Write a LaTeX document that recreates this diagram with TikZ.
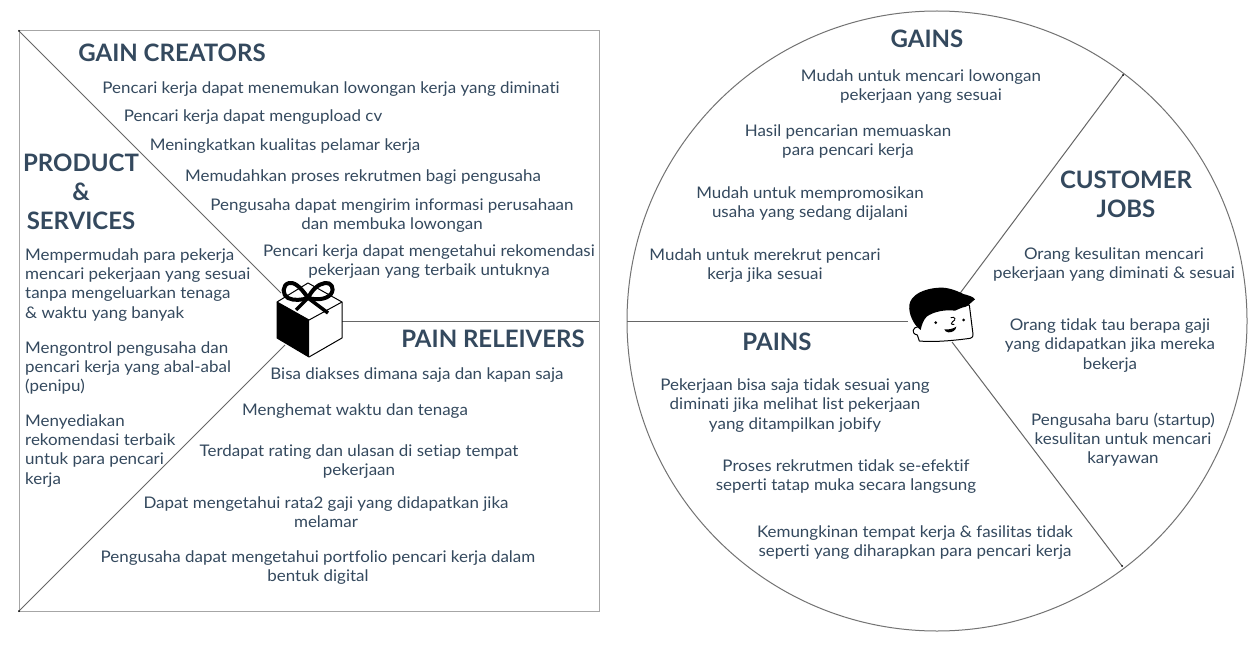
\documentclass[tikz,border=0pt]{standalone}
\usepackage{fontspec}
\setmainfont{Lato}
\newfontfamily\bodyfont[FakeStretch=1.06,Ligatures=NoCommon]{Lato}
\definecolor{ink}{HTML}{34495E}
\definecolor{rule}{HTML}{A6A6A6}
\tikzset{
  body/.style={text=ink,font=\bodyfont\fontsize{16}{19.2}\selectfont,align=center,inner sep=0pt,anchor=center,yshift=-1.5pt},
  bodyl/.style={text=ink,font=\bodyfont\fontsize{16}{19.2}\selectfont,align=left,inner sep=0pt,anchor=north west,yshift=-1.5pt},
  head/.style={text=ink,font=\fontsize{24}{29}\selectfont\bfseries,align=center,inner sep=0pt,anchor=center},
  frame/.style={draw=rule,line width=1pt},
  spoke/.style={draw=black!60,line width=1pt},
  tick/.style={fill=black,inner sep=0pt,minimum size=2pt,circle},
}
\begin{document}
\begin{tikzpicture}[x=1pt,y=-1pt]
\useasboundingbox (0,0) rectangle (1257,647);
\fill[white] (0,0) rectangle (1257,647);
% left canvas
\coordinate (tl) at (19,31);
\coordinate (bl) at (19,611);
\coordinate (br) at (599,611);
\coordinate (tr) at (599,31);
\coordinate (giftA) at (281,293);
\coordinate (giftB) at (285,345);
\coordinate (giftC) at (342,321);
\coordinate (midR) at (599,321);
\draw[frame] (tl) rectangle (br);
\draw[spoke] (tl) -- (giftA);
\draw[spoke] (bl) -- (giftB);
\draw[spoke] (giftC) -- (midR);
\node[tick] (dtl) at (tl) {};
\node[tick] (dbl) at (bl) {};
% right circle
\coordinate (cc) at (937,321);
\coordinate (cL) at (627,321);
\coordinate (cT) at (1123,75);
\coordinate (cB) at (1122,566);
\coordinate (fL) at (908,321);
\coordinate (fT) at (958,296);
\coordinate (fB) at (952,342);
\draw[frame,draw=black!55] (cc) circle (310);
\draw[spoke] (cL) -- (fL);
\draw[spoke] (fT) -- (cT);
\draw[spoke] (fB) -- (cB);
\node[tick] (dct) at (cT) {};
\node[tick] (dcb) at (cB) {};
% gift
\draw[black,line width=1pt,fill=white,line join=round] (308,283) -- (342,302) -- (342,338) -- (309,357) -- (277,338) -- (277,302) -- cycle;
\fill[black] (277,302) -- (309,320) -- (309,357) -- (277,338) -- cycle;
\draw[black,line width=1pt] (277,302) -- (309,320) -- (342,302);
\draw[black,line width=4pt,line cap=round,line join=round] (308,298)
  .. controls (300,286) and (294,282) .. (289,283)
  .. controls (282,285) and (282,295) .. (288,298)
  .. controls (294,301) and (302,300) .. (308,298)
  .. controls (316,300) and (326,300) .. (331,294)
  .. controls (335,288) and (331,282) .. (325,283)
  .. controls (318,284) and (312,290) .. (308,298);
\draw[black,line width=3.5pt,line cap=butt] (308,298) -- (296,310);
\draw[black,line width=3.5pt,line cap=butt] (308,298) -- (328,313);
% face
\begin{scope}[shift={(890,270)},x=0.3333pt,y=-0.3333pt]
\draw[black,line width=1pt,fill=white,line join=round] (85,170) .. controls (70,170) and (60,190) .. (82,195)
  -- (88,213) .. controls (130,217) and (190,212) .. (240,205) .. controls (250,203) and (250,195) .. (248,185)
  -- (238,105) -- (100,120) -- cycle;
\fill[black] (92,180) .. controls (70,165) and (55,130) .. (58,105)
  .. controls (62,75) and (100,55) .. (150,53)
  .. controls (175,52) and (200,62) .. (220,72)
  .. controls (235,76) and (250,80) .. (255,88)
  .. controls (245,95) and (240,103) .. (228,110)
  .. controls (215,112) and (205,118) .. (195,122)
  .. controls (165,118) and (130,125) .. (110,140)
  .. controls (100,150) and (95,165) .. (92,180) -- cycle;
\fill[black] (137,158) circle (4.5);
\fill[black] (221,150) circle (4.5);
\draw[black,line width=0.9pt,line cap=round] (183,143) .. controls (195,138) and (200,150) .. (188,155) .. controls (182,158) and (182,165) .. (192,163);
\fill[black] (163,178) .. controls (175,180) and (190,176) .. (199,170) .. controls (198,182) and (185,188) .. (175,187) .. controls (168,186) and (165,183) .. (163,178) -- cycle;
\end{scope}
% left text
\node[head] (ngc) at (172,53) {GAIN CREATORS};
\node[body] (g1) at (331,88) {Pencari kerja dapat menemukan lowongan kerja yang diminati};
\node[body] (g2) at (253,116) {Pencari kerja dapat mengupload cv};
\node[body] (g3) at (285,145) {Meningkatkan kualitas pelamar kerja};
\node[body] (g4) at (363,176) {Memudahkan proses rekrutmen bagi pengusaha};
\node[body] (g5) at (392,214) {Pengusaha dapat mengirim informasi perusahaan\\dan membuka lowongan};
\node[body] (g6) at (429,260) {Pencari kerja dapat mengetahui rekomendasi\\pekerjaan yang terbaik untuknya};
\node[head] (nps) at (81,192) {PRODUCT\\\&\\SERVICES};
\node[bodyl] (p1) at (25,247) {Mempermudah para pekerja\\mencari pekerjaan yang sesuai\\tanpa mengeluarkan tenaga\\\& waktu yang banyak};
\node[bodyl] (p2) at (25,340) {Mengontrol pengusaha dan\\pencari kerja yang abal-abal\\(penipu)};
\node[bodyl] (p3) at (25,413) {Menyediakan\\rekomendasi terbaik\\untuk para pencari\\kerja};
\node[head] (npr) at (493,339) {PAIN RELEIVERS};
\node[body] (r1) at (417,374) {Bisa diakses dimana saja dan kapan saja};
\node[body] (r2) at (355,410) {Menghemat waktu dan tenaga};
\node[body] (r3) at (359,460) {Terdapat rating dan ulasan di setiap tempat\\pekerjaan};
\node[body] (r4) at (326,511) {Dapat mengetahui rata2 gaji yang didapatkan jika\\melamar};
\node[body] (r5) at (318,566) {Pengusaha dapat mengetahui portfolio pencari kerja dalam\\bentuk digital};
% right text
\node[head] (ngn) at (927,39) {GAINS};
\node[body] (a1) at (921,85) {Mudah untuk mencari lowongan\\pekerjaan yang sesuai};
\node[body] (a2) at (848,140) {Hasil pencarian memuaskan\\para pencari kerja};
\node[body] (a3) at (810,202) {Mudah untuk mempromosikan\\usaha yang sedang dijalani};
\node[body] (a4) at (765,264) {Mudah untuk merekrut pencari\\kerja jika sesuai};
\node[head] (ncj) at (1126,194) {CUSTOMER\\JOBS};
\node[body] (j1) at (1114,263) {Orang kesulitan mencari\\pekerjaan yang diminati \& sesuai};
\node[body] (j2) at (1110,344) {Orang tidak tau berapa gaji\\yang didapatkan jika mereka\\bekerja};
\node[body] (j3) at (1123,438) {Pengusaha baru (startup)\\kesulitan untuk mencari\\karyawan};
\node[head] (npn) at (777,342) {PAINS};
\node[body] (n1) at (795,404) {Pekerjaan bisa saja tidak sesuai yang\\diminati jika melihat list pekerjaan\\yang ditampilkan jobify};
\node[body] (n2) at (846,475) {Proses rekrutmen tidak se-efektif\\seperti tatap muka secara langsung};
\node[body] (n3) at (915,541) {Kemungkinan tempat kerja \& fasilitas tidak\\seperti yang diharapkan para pencari kerja};
\end{tikzpicture}
\end{document}
